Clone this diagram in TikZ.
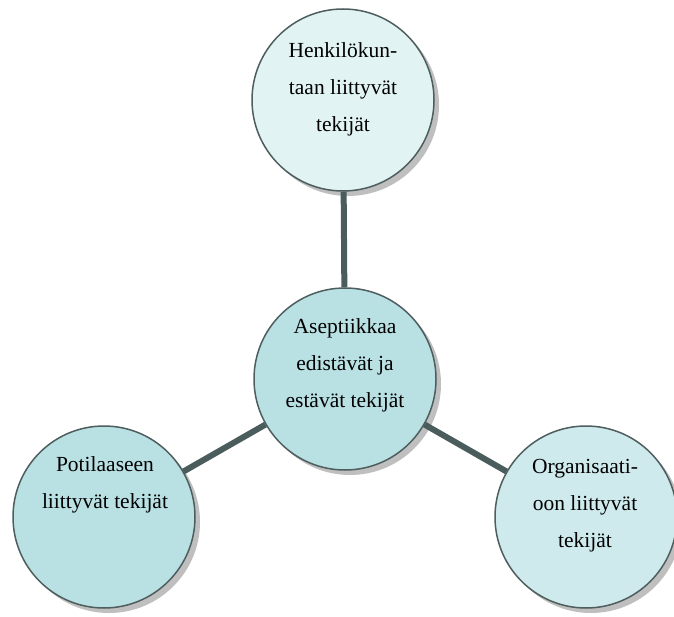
\documentclass[tikz,border=0pt]{standalone}
\usepackage{fontspec}
\setmainfont{Liberation Serif}
\usepackage{tikz}
\usetikzlibrary{shadows,positioning}
\definecolor{ringLine}{RGB}{78,93,93}
\definecolor{linkGray}{RGB}{75,92,92}
\definecolor{fillPale}{RGB}{226,243,243}
\definecolor{fillMid}{RGB}{185,224,227}
\definecolor{fillSoft}{RGB}{207,234,236}

\begin{document}
\begin{tikzpicture}[x=1pt,y=-1pt,
  circ/.style={circle,draw=ringLine,line width=1.5pt,minimum size=182pt,inner sep=0pt,
    drop shadow={shadow xshift=5pt,shadow yshift=-5pt,fill=black!25,opacity=1}},
  txt/.style={align=center,font=\fontsize{21.5}{37}\selectfont},
  link/.style={draw=linkGray,line width=6pt}
]
  \useasboundingbox (0,0) rectangle (674,617);
  \node[circ,fill=fillPale] (staff) at (343,100) {};
  \node[circ,fill=fillMid] (core) at (345,379) {};
  \node[circ,fill=fillMid] (patient) at (104,517) {};
  \node[circ,fill=fillSoft] (org) at (586,517) {};
  \draw[link] (staff) -- (core);
  \draw[link] (core) -- (patient);
  \draw[link] (core) -- (org);
  \node[txt] (staffTxt) at (343,89) {Henkilökun-\\taan liittyvät\\tekijät};
  \node[txt] (coreTxt) at (345,365) {Aseptiikkaa\\edistävät ja\\estävät tekijät};
  \node[txt] (patientTxt) at (105,485) {Potilaaseen\\liittyvät tekijät};
  \node[txt] (orgTxt) at (585,506) {Organisaati-\\oon liittyvät\\tekijät};
\end{tikzpicture}
\end{document}
